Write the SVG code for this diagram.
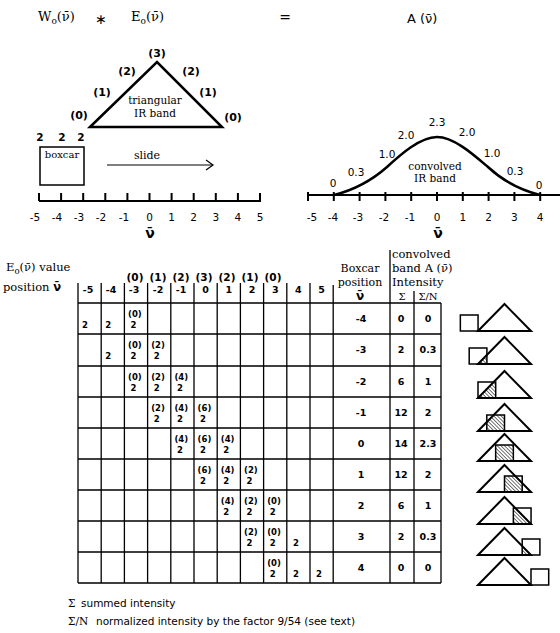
<svg xmlns="http://www.w3.org/2000/svg" width="560" height="633" viewBox="0 0 560 633">
<style>
text{fill:#000}
.sf{font-family:"DejaVu Serif","Liberation Serif",serif}
.ss{font-family:"DejaVu Sans","Liberation Sans",sans-serif}
.b{font-weight:bold}
.m{text-anchor:middle}
.ln{stroke:#000;fill:none;stroke-width:1.3}
.ax{stroke:#000;fill:none;stroke-width:2}
.big{fill:none;stroke:#000;stroke-width:2.5;stroke-linejoin:miter}
.ti{fill:none;stroke:#000;stroke-width:2;stroke-linejoin:miter}
.bx{fill:none;stroke:#000;stroke-width:1.5}
.hat{fill:url(#hatch);stroke:none}
.cell{font-family:"DejaVu Sans","Liberation Sans",sans-serif;font-weight:bold;font-size:8.5px}
.num{font-family:"DejaVu Sans","Liberation Sans",sans-serif;font-weight:bold;font-size:9.5px;text-anchor:middle}
.tk{font-family:"DejaVu Sans","Liberation Sans",sans-serif;font-size:10.5px;text-anchor:middle}
</style>
<defs>
<pattern id="hatch" patternUnits="userSpaceOnUse" width="2.6" height="2.6" patternTransform="rotate(-45)">
<line x1="0" y1="0" x2="0" y2="2.6" stroke="#000" stroke-width="1.1"/>
</pattern>
<clipPath id="triclip" clipPathUnits="userSpaceOnUse"><polygon points="-26.5,0 0,-27 26.5,0"/></clipPath>
<marker id="arr" markerWidth="10" markerHeight="12" refX="8" refY="6" orient="auto" markerUnits="userSpaceOnUse">
<polyline points="1,1 8,6 1,11" fill="none" stroke="#000" stroke-width="1.2"/>
</marker>
</defs>

<g id="equation">
<text class="sf" x="38" y="21" font-size="13">W<tspan font-size="9" dy="3">o</tspan><tspan dy="-3">(ν̄)</tspan></text>
<text class="ss" x="101" y="24" font-size="14" text-anchor="middle">∗</text>
<text class="sf" x="131" y="21" font-size="13">E<tspan font-size="9" dy="3">o</tspan><tspan dy="-3">(ν̄)</tspan></text>
<text class="ss" x="285" y="22" font-size="14" text-anchor="middle">=</text>
<text class="ss" x="407" y="23" font-size="13">A (ν̄)</text>
</g>

<g id="triangular-band">
<polygon class="big" points="90,127 157,62 222,127"/>
<g class="ss b" font-size="11">
<text class="m" x="157" y="57">(3)</text>
<text class="m" x="127" y="75">(2)</text>
<text class="m" x="191" y="75">(2)</text>
<text class="m" x="102" y="96">(1)</text>
<text class="m" x="208" y="96">(1)</text>
<text class="m" x="79" y="119">(0)</text>
<text class="m" x="233" y="121">(0)</text>
</g>
<text class="sf m" x="155" y="104" font-size="10.5">triangular</text>
<text class="sf m" x="155" y="117" font-size="10.5">IR band</text>
</g>

<g id="boxcar">
<rect class="bx" x="40" y="147" width="44" height="38"/>
<g class="ss b" font-size="10.5">
<text class="m" x="40" y="141">2</text>
<text class="m" x="62" y="141">2</text>
<text class="m" x="81" y="141">2</text>
</g>
<text class="sf m" x="62" y="158" font-size="10">boxcar</text>
</g>

<g id="left-axis">
<line class="ax" x1="39" y1="201" x2="261" y2="201"/>
<path class="ax" d="M39,193V201M61.1,193V201M83.2,193V201M105.3,193V201M127.4,193V201M149.5,193V201M171.6,193V201M193.7,193V201M215.8,193V201M237.9,193V201M260,193V201"/>
<text class="tk" x="35" y="221">-5</text>
<text class="tk" x="57" y="221">-4</text>
<text class="tk" x="79" y="221">-3</text>
<text class="tk" x="101" y="221">-2</text>
<text class="tk" x="124" y="221">-1</text>
<text class="tk" x="149.5" y="221">0</text>
<text class="tk" x="171.6" y="221">1</text>
<text class="tk" x="193.7" y="221">2</text>
<text class="tk" x="215.8" y="221">3</text>
<text class="tk" x="237.9" y="221">4</text>
<text class="tk" x="260" y="221">5</text>
<text class="ss b m" x="150" y="238" font-size="14">ν̄</text>
</g>

<g id="convolved-band">
<path class="big" d="M334,195 C350,191 370,182 387,167 C400,155 420,137 437,137 C454,137 474,155 488,167 C504,182 524,191 540,195"/>
<line class="ax" x1="308" y1="195" x2="560" y2="195"/>
<path class="ax" d="M308,192V201M333.8,192V201M359.6,192V201M385.4,192V201M411.2,192V201M437,192V201M462.8,192V201M488.6,192V201M514.4,192V201M540.2,192V201"/>
<g class="ss" font-size="10.5" text-anchor="middle">
<text x="333" y="187">0</text>
<text x="356" y="176">0.3</text>
<text x="387" y="158">1.0</text>
<text x="406" y="139">2.0</text>
<text x="437" y="126">2.3</text>
<text x="467" y="136">2.0</text>
<text x="492" y="157">1.0</text>
<text x="515" y="175">0.3</text>
<text x="539" y="189">0</text>
</g>
<text class="sf m" x="435" y="170" font-size="10.5">convolved</text>
<text class="sf m" x="435" y="182" font-size="10.5">IR band</text>
<text class="tk" x="312" y="221">-5</text>
<text class="tk" x="333" y="221">-4</text>
<text class="tk" x="358" y="221">-3</text>
<text class="tk" x="384" y="221">-2</text>
<text class="tk" x="410" y="221">-1</text>
<text class="tk" x="437" y="221">0</text>
<text class="tk" x="462.8" y="221">1</text>
<text class="tk" x="488.6" y="221">2</text>
<text class="tk" x="514.4" y="221">3</text>
<text class="tk" x="540.2" y="221">4</text>
<text class="ss b m" x="438" y="238" font-size="14">ν̄</text>
</g>

<g id="connectors">
<line x1="107" y1="165" x2="213" y2="165" stroke="#000" stroke-width="1.2" marker-end="url(#arr)"/>
<text class="sf m" x="147" y="159" font-size="11">slide</text>
</g>

<g id="table-header">
<text class="sf" x="6" y="271" font-size="11.5">E<tspan font-size="8.5" dy="3">o</tspan><tspan dy="-3">(ν̄) value</tspan></text>
<text class="sf" x="3" y="291" font-size="11.5">position <tspan class="ss b">ν̄</tspan></text>
<g class="ss b" font-size="10.5" text-anchor="middle">
<text x="135" y="281">(0)</text>
<text x="158" y="281">(1)</text>
<text x="181" y="281">(2)</text>
<text x="204" y="281">(3)</text>
<text x="227" y="281">(2)</text>
<text x="250" y="281">(1)</text>
<text x="273" y="281">(0)</text>
</g>
<g class="ss b" font-size="9.5" text-anchor="middle">
<text x="88" y="293">-5</text>
<text x="111" y="293">-4</text>
<text x="134" y="293">-3</text>
<text x="158" y="293">-2</text>
<text x="181" y="293">-1</text>
<text x="205.6" y="293">0</text>
<text x="228.8" y="293">1</text>
<text x="252" y="293">2</text>
<text x="275.2" y="293">3</text>
<text x="298.4" y="293">4</text>
<text x="321.6" y="293">5</text>
</g>
<text class="sf m" x="360" y="272" font-size="11">Boxcar</text>
<text class="sf m" x="360" y="286" font-size="11">position</text>
<text class="ss b m" x="360" y="300" font-size="12">ν̄</text>
<text class="sf" x="392" y="258" font-size="11.5">convolved</text>
<text class="sf" x="392" y="272" font-size="11.5">band A (ν̄)</text>
<text class="sf" x="392" y="286" font-size="11.5">Intensity</text>
<text class="sf m" x="402" y="300" font-size="10">Σ</text>
<text class="sf m" x="428" y="300" font-size="10">Σ/N</text>
</g>

<g id="table-grid">
<path class="ln" d="M78,303H441M78,334H441M78,366H441M78,397H441M78,428H441M78,459H441M78,490H441M78,521H441M78,552H441M78,583H441"/>
<path class="ln" d="M78,283V583M101.2,283V583M124.4,283V583M147.6,283V583M170.8,283V583M194,283V583M217.2,283V583M240.4,283V583M263.6,283V583M286.8,283V583M310,283V583M333.2,285V583M390,250V583M414,291V583M441,303V583"/>
</g>

<g id="table-cells">
<g class="cell">
<text x="82" y="328">2</text><text x="105.2" y="328">2</text><text x="128" y="316.5">(0)</text><text x="130.5" y="328">2</text>
<text x="105.2" y="359">2</text><text x="128" y="347.5">(0)</text><text x="130.5" y="359">2</text><text x="151.2" y="347.5">(2)</text><text x="153.7" y="359">2</text>
<text x="128" y="379.5">(0)</text><text x="130.5" y="391">2</text><text x="151.2" y="379.5">(2)</text><text x="153.7" y="391">2</text><text x="174.4" y="379.5">(4)</text><text x="176.9" y="391">2</text>
<text x="151.2" y="410.5">(2)</text><text x="153.7" y="422">2</text><text x="174.4" y="410.5">(4)</text><text x="176.9" y="422">2</text><text x="197.6" y="410.5">(6)</text><text x="200.1" y="422">2</text>
<text x="174.4" y="441.5">(4)</text><text x="176.9" y="453">2</text><text x="197.6" y="441.5">(6)</text><text x="200.1" y="453">2</text><text x="220.8" y="441.5">(4)</text><text x="223.3" y="453">2</text>
<text x="197.6" y="472.5">(6)</text><text x="200.1" y="484">2</text><text x="220.8" y="472.5">(4)</text><text x="223.3" y="484">2</text><text x="244" y="472.5">(2)</text><text x="246.5" y="484">2</text>
<text x="220.8" y="503.5">(4)</text><text x="223.3" y="515">2</text><text x="244" y="503.5">(2)</text><text x="246.5" y="515">2</text><text x="267.2" y="503.5">(0)</text><text x="269.7" y="515">2</text>
<text x="244" y="534.5">(2)</text><text x="246.5" y="546">2</text><text x="267.2" y="534.5">(0)</text><text x="269.7" y="546">2</text><text x="293" y="546">2</text>
<text x="267.2" y="565.5">(0)</text><text x="269.7" y="577">2</text><text x="293" y="577">2</text><text x="316" y="577">2</text>
</g>
<g class="num">
<text x="361" y="322">-4</text><text x="401" y="322">0</text><text x="428" y="322">0</text>
<text x="361" y="353">-3</text><text x="401" y="353">2</text><text x="428" y="353">0.3</text>
<text x="361" y="385">-2</text><text x="401" y="385">6</text><text x="428" y="385">1</text>
<text x="361" y="416">-1</text><text x="401" y="416">12</text><text x="428" y="416">2</text>
<text x="361" y="447">0</text><text x="401" y="447">14</text><text x="428" y="447">2.3</text>
<text x="361" y="478">1</text><text x="401" y="478">12</text><text x="428" y="478">2</text>
<text x="361" y="509">2</text><text x="401" y="509">6</text><text x="428" y="509">1</text>
<text x="361" y="540">3</text><text x="401" y="540">2</text><text x="428" y="540">0.3</text>
<text x="361" y="571">4</text><text x="401" y="571">0</text><text x="428" y="571">0</text>
</g>
</g>

<g id="icon-m4" transform="translate(504.5,331)"><rect class="hat" x="-44.15" y="-16" width="17.7" height="16" clip-path="url(#triclip)"/><polygon class="ti" points="-26.5,0 0,-27 26.5,0"/><rect class="bx" x="-44.15" y="-16" width="17.7" height="16"/></g>
<g id="icon-m3" transform="translate(504.5,364)"><rect class="hat" x="-35.3" y="-16" width="17.7" height="16" clip-path="url(#triclip)"/><polygon class="ti" points="-26.5,0 0,-27 26.5,0"/><rect class="bx" x="-35.3" y="-16" width="17.7" height="16"/></g>
<g id="icon-m2" transform="translate(504.5,398)"><rect class="hat" x="-26.5" y="-16" width="17.7" height="16" clip-path="url(#triclip)"/><polygon class="ti" points="-26.5,0 0,-27 26.5,0"/><rect class="bx" x="-26.5" y="-16" width="17.7" height="16"/></g>
<g id="icon-m1" transform="translate(504.5,431)"><rect class="hat" x="-17.7" y="-16" width="17.7" height="16" clip-path="url(#triclip)"/><polygon class="ti" points="-26.5,0 0,-27 26.5,0"/><rect class="bx" x="-17.7" y="-16" width="17.7" height="16"/></g>
<g id="icon-0" transform="translate(504.5,461)"><rect class="hat" x="-8.85" y="-16" width="17.7" height="16" clip-path="url(#triclip)"/><polygon class="ti" points="-26.5,0 0,-27 26.5,0"/><rect class="bx" x="-8.85" y="-16" width="17.7" height="16"/></g>
<g id="icon-p1" transform="translate(504.5,492)"><rect class="hat" x="0" y="-16" width="17.7" height="16" clip-path="url(#triclip)"/><polygon class="ti" points="-26.5,0 0,-27 26.5,0"/><rect class="bx" x="0" y="-16" width="17.7" height="16"/></g>
<g id="icon-p2" transform="translate(504.5,524)"><rect class="hat" x="8.85" y="-16" width="17.7" height="16" clip-path="url(#triclip)"/><polygon class="ti" points="-26.5,0 0,-27 26.5,0"/><rect class="bx" x="8.85" y="-16" width="17.7" height="16"/></g>
<g id="icon-p3" transform="translate(504.5,555)"><rect class="hat" x="17.7" y="-16" width="17.7" height="16" clip-path="url(#triclip)"/><polygon class="ti" points="-26.5,0 0,-27 26.5,0"/><rect class="bx" x="17.7" y="-16" width="17.7" height="16"/></g>
<g id="icon-p4" transform="translate(504.5,585)"><rect class="hat" x="26.5" y="-16" width="17.7" height="16" clip-path="url(#triclip)"/><polygon class="ti" points="-26.5,0 0,-27 26.5,0"/><rect class="bx" x="26.5" y="-16" width="17.7" height="16"/></g>

<g id="legend">
<text class="sf" x="68" y="607" font-size="10.5">Σ</text>
<text class="ss" x="81" y="607" font-size="10.5">summed intensity</text>
<text class="sf" x="68" y="625" font-size="10.5">Σ/N</text>
<text class="ss" x="96" y="625" font-size="10.5">normalized intensity by the factor 9/54 (see text)</text>
</g>
</svg>
